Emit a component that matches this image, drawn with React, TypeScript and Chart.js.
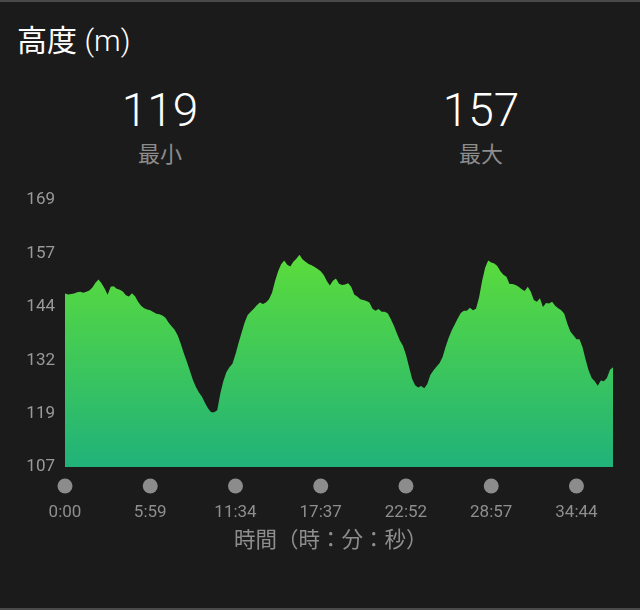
import { useEffect, useRef } from 'react';
import { Chart, registerables } from 'chart.js';

Chart.register(...registerables);

// elevation samples (m), evenly spaced along the track
const ELEVATION = [
  147.3, 147.1, 147.2, 147.3, 147.6, 147.7, 147.5, 147.7, 148.0, 148.7,
  149.8, 150.6, 149.7, 148.5, 147.0, 148.9, 149.0, 148.4, 148.2, 147.8,
  146.9, 146.6, 147.4, 146.7, 145.4, 144.5, 143.9, 143.6, 143.4, 143.0,
  142.6, 142.5, 142.2, 141.7, 140.6, 139.7, 138.9, 137.6, 135.7, 133.5,
  131.5, 129.4, 127.3, 125.6, 124.3, 123.3, 121.9, 120.6, 119.7, 119.7,
  120.2, 124.0, 126.9, 129.0, 130.2, 131.0, 133.2, 135.8, 138.2, 140.6,
  142.3, 143.1, 143.8, 144.6, 145.2, 144.9, 145.2, 146.0, 147.5, 150.2,
  152.5, 154.1, 155.0, 154.0, 153.6, 154.7, 155.4, 156.3, 155.3, 154.7,
  154.2, 153.9, 153.5, 153.0, 152.5, 151.6, 150.2, 149.2, 150.3, 150.8,
  149.6, 149.3, 149.4, 149.7, 148.9, 147.1, 146.6, 146.0, 145.8, 145.6,
  145.2, 143.8, 143.3, 143.7, 143.1, 143.1, 142.7, 141.4, 139.9, 138.1,
  136.4, 135.2, 133.1, 130.3, 127.5, 126.0, 125.5, 125.8, 125.3, 126.3,
  128.4, 129.4, 130.3, 131.1, 132.5, 134.9, 137.0, 138.7, 140.1, 141.5,
  142.8, 143.3, 143.3, 144.0, 143.4, 143.8, 146.4, 150.2, 153.3, 155.0,
  154.5, 154.3, 153.7, 152.5, 151.7, 151.2, 149.5, 149.5, 149.3, 148.9,
  148.3, 147.9, 148.9, 147.7, 145.8, 145.4, 146.2, 144.2, 145.1, 145.0,
  145.4, 144.5, 143.9, 143.4, 142.6, 140.3, 138.5, 137.6, 136.7, 136.7,
  134.8, 132.0, 129.4, 127.7, 126.9, 125.9, 127.1, 126.9, 127.7, 129.6,
  130.2,
];

// sample index of each time tick on the x axis
const TICK_INDEX = [0, 28, 56, 84, 112, 140, 168];
const TIME_LABELS = ['0:00', '5:59', '11:34', '17:37', '22:52', '28:57', '34:44'];

const Y_MIN = 107;
const Y_MAX = 169;
const Y_LABELS = ['107', '119', '132', '144', '157', '169'];

const MIN_ELEV = 119;
const MAX_ELEV = 157;

const BG = '#1b1b1b';
const FONT = "Roboto, 'Noto Sans CJK JP', sans-serif";

const tickDots = {
  id: 'tickDots',
  afterDraw(chart: Chart) {
    const xs = chart.scales.x;
    const ctx = chart.ctx;
    const y = chart.chartArea.bottom + 19;
    ctx.save();
    ctx.fillStyle = '#8c8c8c';
    xs.ticks.forEach((t) => {
      ctx.beginPath();
      ctx.arc(xs.getPixelForValue(t.value), y, 7.5, 0, Math.PI * 2);
      ctx.fill();
    });
    ctx.restore();
  },
};

function ElevationChart() {
  const canvasRef = useRef<HTMLCanvasElement>(null);
  const chartRef = useRef<Chart | null>(null);

  useEffect(() => {
    if (!canvasRef.current) return;
    chartRef.current?.destroy();
    const ctx = canvasRef.current.getContext('2d');
    if (!ctx) return;

    chartRef.current = new Chart(ctx, {
      type: 'line',
      data: {
        datasets: [{
          data: ELEVATION.map((v, i) => ({ x: i, y: v })),
          fill: 'start',
          borderWidth: 0,
          pointRadius: 0,
          tension: 0,
          backgroundColor: (c) => {
            const area = c.chart.chartArea;
            if (!area) return '#40c850';
            const top = c.chart.scales.y.getPixelForValue(MAX_ELEV);
            const g = c.chart.ctx.createLinearGradient(0, top, 0, area.bottom);
            g.addColorStop(0, '#5cdd3a');
            g.addColorStop(1, '#20b27a');
            return g;
          },
        }],
      },
      options: {
        responsive: true,
        maintainAspectRatio: false,
        animation: false,
        layout: { padding: { top: 16, right: 27, left: 0, bottom: 0 } },
        plugins: {
          legend: { display: false },
          tooltip: { enabled: false },
        },
        scales: {
          x: {
            type: 'linear',
            min: 0,
            max: ELEVATION.length - 1,
            afterBuildTicks: (scale) => {
              scale.ticks = TICK_INDEX.map((v) => ({ value: v }));
            },
            afterFit: (scale) => {
              scale.height = 93;
            },
            grid: { display: false, drawTicks: false },
            border: { display: false },
            ticks: {
              color: '#8e8e8e',
              font: { family: FONT, size: 17 },
              padding: 36,
              maxRotation: 0,
              autoSkip: false,
              callback: (v) => TIME_LABELS[TICK_INDEX.indexOf(Number(v))] ?? '',
            },
          },
          y: {
            min: Y_MIN,
            max: Y_MAX,
            afterBuildTicks: (scale) => {
              const step = (Y_MAX - Y_MIN) / (Y_LABELS.length - 1);
              scale.ticks = Y_LABELS.map((_, i) => ({ value: Y_MIN + i * step }));
            },
            afterFit: (scale) => {
              scale.width = 65;
            },
            grid: { display: false, drawTicks: false },
            border: { display: false },
            ticks: {
              color: '#9a9a9a',
              font: { family: FONT, size: 17 },
              padding: 10,
              callback: (_v, i) => Y_LABELS[i],
            },
          },
        },
      },
      plugins: [tickDots],
    });

    return () => {
      chartRef.current?.destroy();
      chartRef.current = null;
    };
  }, []);

  return (
    <div style={{ position: 'absolute', left: 0, top: 180, width: 640, height: 380 }}>
      <canvas ref={canvasRef} />
    </div>
  );
}

function Stat({ value, label, center }: { value: number; label: string; center: number }) {
  return (
    <>
      <div style={{
        position: 'absolute', left: center - 100, width: 200, top: 87, textAlign: 'center',
        fontSize: 46, lineHeight: 1, fontWeight: 300, color: '#ffffff',
      }}>{value}</div>
      <div style={{
        position: 'absolute', left: center - 100, width: 200, top: 144, textAlign: 'center',
        fontSize: 22, lineHeight: 1, color: '#8c8c8c',
      }}>{label}</div>
    </>
  );
}

export default function App() {
  useEffect(() => {
    document.body.style.margin = '0';
    document.body.style.background = BG;
  }, []);

  return (
    <div style={{
      position: 'relative', width: 640, height: 610, background: BG, overflow: 'hidden',
      fontFamily: FONT,
    }}>
      <div style={{ position: 'absolute', left: 0, top: 0, width: 640, height: 2, background: '#4a4a4a' }} />
      <div style={{ position: 'absolute', left: 0, bottom: 0, width: 640, height: 2, background: '#4a4a4a' }} />
      <div style={{ position: 'absolute', left: 17, top: 26, fontSize: 30, lineHeight: 1, color: '#ffffff', whiteSpace: 'nowrap' }}>
        高度 <span style={{ fontWeight: 300 }}>(m)</span>
      </div>
      <Stat value={MIN_ELEV} label="最小" center={160} />
      <Stat value={MAX_ELEV} label="最大" center={481} />
      <ElevationChart />
      <div style={{
        position: 'absolute', left: 234, top: 529, fontSize: 21.5, lineHeight: 1,
        color: '#8e8e8e', whiteSpace: 'nowrap',
      }}>時間（時：分：秒）</div>
    </div>
  );
}
